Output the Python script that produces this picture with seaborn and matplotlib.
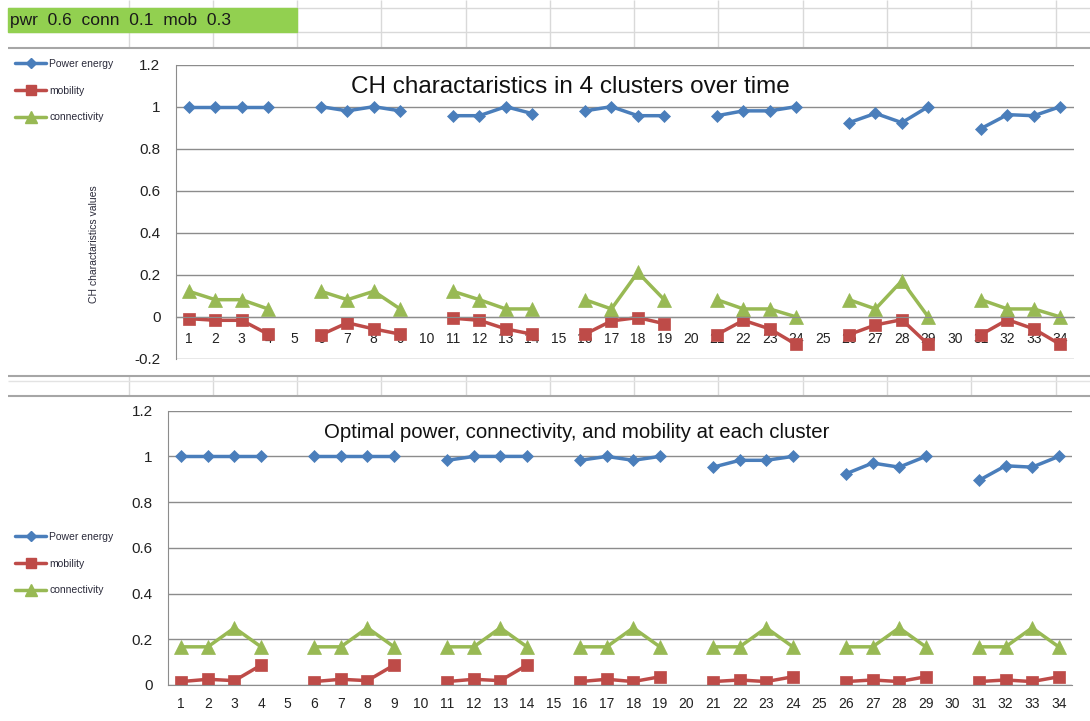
import numpy as np
import pandas as pd
import matplotlib
matplotlib.use("Agg")
import matplotlib.pyplot as plt
from matplotlib.lines import Line2D
from matplotlib.patches import Rectangle
import seaborn as sns

nan = np.nan

# ── data ────────────────────────────────────────────────────────────
TIME = list(range(1, 35))
SERIES = ["Power energy", "mobility", "connectivity"]

top_power = [1.0, 1.0, 1.0, 1.0, nan,
             1.0, 0.98, 1.0, 0.98, nan,
             0.957, 0.957, 1.0, 0.967, nan,
             0.98, 1.0, 0.957, 0.957, nan,
             0.957, 0.98, 0.98, 1.0, nan,
             0.924, 0.968, 0.924, 1.0, nan,
             0.896, 0.962, 0.957, 1.0]
top_mobility = [-0.008, -0.016, -0.016, -0.082, nan,
                -0.085, -0.028, -0.057, -0.082, nan,
                -0.006, -0.016, -0.057, -0.082, nan,
                -0.082, -0.019, -0.003, -0.032, nan,
                -0.084, -0.016, -0.057, -0.131, nan,
                -0.084, -0.038, -0.013, -0.131, nan,
                -0.084, -0.013, -0.057, -0.131]
top_connectivity = [0.122, 0.082, 0.082, 0.038, nan,
                    0.122, 0.082, 0.122, 0.038, nan,
                    0.122, 0.082, 0.038, 0.038, nan,
                    0.082, 0.038, 0.212, 0.082, nan,
                    0.082, 0.038, 0.038, 0.0, nan,
                    0.082, 0.038, 0.172, 0.0, nan,
                    0.082, 0.038, 0.038, 0.0]

bot_power = [1.0, 1.0, 1.0, 1.0, nan,
             1.0, 1.0, 1.0, 1.0, nan,
             0.983, 1.0, 1.0, 1.0, nan,
             0.983, 1.0, 0.983, 1.0, nan,
             0.953, 0.983, 0.983, 1.0, nan,
             0.924, 0.971, 0.953, 1.0, nan,
             0.895, 0.959, 0.953, 1.0]
bot_mobility = [0.015, 0.025, 0.019, 0.087, nan,
                0.015, 0.025, 0.019, 0.087, nan,
                0.015, 0.025, 0.019, 0.087, nan,
                0.015, 0.025, 0.015, 0.036, nan,
                0.015, 0.022, 0.015, 0.036, nan,
                0.015, 0.022, 0.015, 0.036, nan,
                0.015, 0.022, 0.015, 0.036]
bot_connectivity = [0.167, 0.167, 0.25, 0.167, nan,
                    0.167, 0.167, 0.25, 0.167, nan,
                    0.167, 0.167, 0.25, 0.167, nan,
                    0.167, 0.167, 0.25, 0.167, nan,
                    0.167, 0.167, 0.25, 0.167, nan,
                    0.167, 0.167, 0.25, 0.167, nan,
                    0.167, 0.167, 0.25, 0.167]

TOP_TITLE = "CH charactaristics in 4 clusters over time"
BOT_TITLE = "Optimal power, connectivity, and mobility at each cluster"
TOP_YLABEL = "CH charactaristics values"
HEADER = "pwr  0.6  conn  0.1  mob  0.3"

COLORS = {"Power energy": "#4A7EBB", "mobility": "#BE4B48", "connectivity": "#98B954"}
MARKERS = {"Power energy": "D", "mobility": "s", "connectivity": "^"}
MSIZE = {"D": 6.4, "s": 8.0, "^": 10.0}
AXIS_GRAY = "#8c8c8c"
TEXT_DARK = "#2a2a3a"

sns.set_style("white")
plt.rcParams["font.family"] = ["Liberation Sans", "DejaVu Sans"]

W, H = 1090, 721


def to_long(power, mobility, conn):
    df = pd.DataFrame({"time": TIME, "Power energy": power,
                       "mobility": mobility, "connectivity": conn})
    df["cluster"] = (df["time"] - 1) // 5
    return df.melt(id_vars=["time", "cluster"], var_name="series",
                   value_name="value").dropna()


def px_axes(fig, left, right, top, bottom):
    """Axes placed from pixel edges of the reference."""
    return fig.add_axes([left / W, 1 - bottom / H, (right - left) / W, (bottom - top) / H])


def draw_panel(ax, long, ylim, xpad):
    sns.lineplot(data=long, x="time", y="value", hue="series", style="series",
                 units="cluster", estimator=None, hue_order=SERIES, style_order=SERIES,
                 palette=COLORS, markers=MARKERS, dashes=False, linewidth=2.5,
                 legend=False, ax=ax)
    for ln in ax.lines:
        m = ln.get_marker()
        if m in MSIZE:
            ln.set_markersize(MSIZE[m])
            ln.set_markeredgecolor(ln.get_color())
            ln.set_markeredgewidth(0.5)

    ax.set_facecolor("none")
    ax.set_xlim(0.5, 34.5)
    ax.set_ylim(*ylim)
    yt = np.round(np.arange(ylim[0], ylim[1] + 0.001, 0.2), 1)
    ax.set_yticks(yt)
    ax.set_yticklabels([f"{v + 0.0:g}" for v in yt])
    ax.yaxis.grid(True, color=AXIS_GRAY, lw=1)
    ax.set_axisbelow(True)

    for s in ("top", "right"):
        ax.spines[s].set_visible(False)
    ax.spines["left"].set_color(AXIS_GRAY)
    ax.spines["bottom"].set_color(AXIS_GRAY)
    ax.spines["bottom"].set_position(("data", 0))

    # Excel category axis: tick marks between categories, labels under each one
    ax.set_xticks(np.arange(0.5, 35, 1.0))
    ax.set_xticklabels([])
    ax.set_xticks(TIME, minor=True)
    ax.set_xticklabels([str(t) for t in TIME], minor=True)
    ax.tick_params(axis="x", which="major", direction="out", length=5,
                   color=AXIS_GRAY, width=1)
    ax.tick_params(axis="x", which="minor", length=0, pad=xpad,
                   labelsize=10, labelcolor="#222222")
    ax.tick_params(axis="y", direction="out", length=5, color=AXIS_GRAY,
                   pad=6, labelsize=11, labelcolor="#222222")
    ax.set_xlabel("")
    ax.set_ylabel("")


def add_legend(fig, x_px, y_px):
    handles = [Line2D([], [], color=COLORS[s], lw=2.5, marker=MARKERS[s],
                      markersize=MSIZE[MARKERS[s]] * 0.85, markeredgecolor=COLORS[s])
               for s in SERIES]
    fig.legend(handles, SERIES, loc="upper left", bbox_to_anchor=(x_px / W, 1 - y_px / H),
               frameon=False, fontsize=7.5, handlelength=3.0, handletextpad=0.3,
               labelspacing=1.6, borderpad=0, borderaxespad=0, labelcolor=TEXT_DARK)


fig = plt.figure(figsize=(W / 100, H / 100), dpi=100)
fig.patch.set_facecolor("white")

# spreadsheet cells behind the charts
bg = fig.add_axes([0, 0, 1, 1], zorder=-5)
bg.set_xlim(0, W)
bg.set_ylim(H, 0)
bg.axis("off")
cell_cols = [129, 213, 297, 381, 466, 550, 634, 718, 803, 887, 971, 1056]
bg.vlines(cell_cols, 0, 48, color="#d9d9d9", lw=1)
bg.hlines([8, 32], 8, W, color="#d9d9d9", lw=1)
bg.add_patch(Rectangle((8, 8), 289, 24, color="#92D050", zorder=3))
bg.text(10, 20.5, HEADER, va="center", ha="left", fontsize=12.5, color="#1a1a1a", zorder=4)
bg.hlines(48, 8, W, color="#a6a6a6", lw=1.5)
bg.vlines(cell_cols, 376, 396, color="#d9d9d9", lw=1)
bg.hlines(381, 8, W, color="#e3e3e3", lw=1)
bg.hlines([376, 396], 8, W, color="#a6a6a6", lw=1.5)

# top chart
ax1 = px_axes(fig, 175.7, 1073.5, 64.6, 359)
draw_panel(ax1, to_long(top_power, top_mobility, top_connectivity), (-0.2, 1.2), 10.5)
ax1.text(0.44, 0.925, TOP_TITLE, transform=ax1.transAxes, ha="center", va="center",
         fontsize=17.5, color="#111111")
ax1.set_ylabel(TOP_YLABEL, fontsize=7.5, color=TEXT_DARK)
ax1.yaxis.set_label_coords(-0.0854, 0.39)
add_legend(fig, 15, 59)

# bottom chart
ax2 = px_axes(fig, 168, 1072, 410.7, 685)
draw_panel(ax2, to_long(bot_power, bot_mobility, bot_connectivity), (0.0, 1.2), 8.8)
ax2.text(0.452, 0.919, BOT_TITLE, transform=ax2.transAxes, ha="center", va="center",
         fontsize=14.7, color="#111111")
add_legend(fig, 15, 532)

fig.savefig("out.png", dpi=100)
plt.close(fig)
